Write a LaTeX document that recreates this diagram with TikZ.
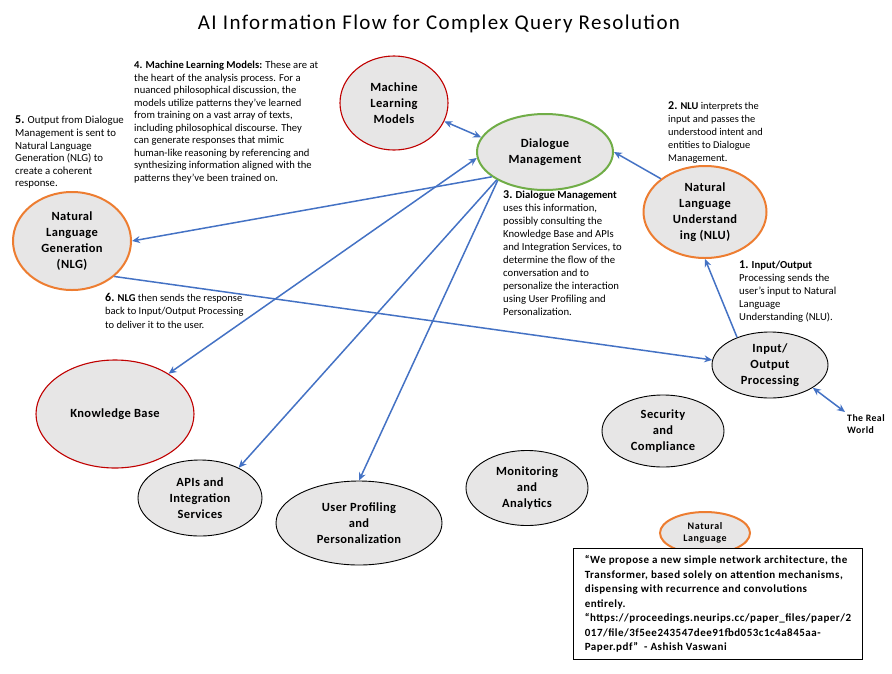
\documentclass[tikz,border=0pt]{standalone}
\usepackage{fontspec}
\setmainfont{Carlito}
\newfontfamily\titlefont{Carlito}[LetterSpace=6.5]
\newfontfamily\bubblefont{Carlito}[LetterSpace=3]
\newfontfamily\quotefont{Carlito}[LetterSpace=4.5]
\newfontfamily\smallfont{Carlito}[LetterSpace=6]
\usetikzlibrary{shapes.geometric,arrows.meta}

\definecolor{flowblue}{HTML}{4472C4}
\definecolor{mlred}{HTML}{C00000}
\definecolor{dmgreen}{HTML}{70AD47}
\definecolor{nlorange}{HTML}{ED7D31}
\definecolor{bubblegray}{HTML}{E7E6E6}

\tikzset{
    bubble/.style={ellipse, fill=bubblegray, draw=black, line width=0.9pt, align=center, inner sep=0pt, font=\bubblefont\fontsize{12.5}{15.8}\selectfont\bfseries},
    redbubble/.style={bubble, draw=mlred, line width=1.1pt},
    greenbubble/.style={bubble, draw=dmgreen, line width=2pt},
    orangebubble/.style={bubble, draw=nlorange, line width=2pt},
    note/.style={anchor=north west, align=left, inner sep=0pt},
    flow/.style={draw=flowblue, line width=1.5pt, -{Stealth[length=8pt,width=7pt]}},
    twoway/.style={flow, {Stealth[length=8pt,width=7pt]}-{Stealth[length=8pt,width=7pt]}}
}
\newcommand{\numtag}[1]{{\fontsize{12}{12}\selectfont\bfseries #1}}
\newcommand{\notesize}[2]{\fontsize{#1}{#2}\selectfont}

\begin{document}
\begin{tikzpicture}[x=1pt, y=-1pt]
    \useasboundingbox (0,0) rectangle (892,673);
    %   Title
    \node (title) at (439,24) {\titlefont\fontsize{21}{24}\selectfont AI Information Flow for Complex Query Resolution};

    %   Define the components as ellipses
    \node[redbubble, minimum width=108pt, minimum height=94pt] (ml) at (394,103) {Machine\\Learning\\Models};
    \node[greenbubble, minimum width=136pt, minimum height=76pt] (dm) at (545,152) {Dialogue\\Management};
    \node[orangebubble, minimum width=123pt, minimum height=92pt] (nlu) at (705,212) {Natural\\Language\\Understand\\ing (NLU)};
    \node[orangebubble, minimum width=118pt, minimum height=98pt] (nlg) at (72,241) {Natural\\Language\\Generation\\(NLG)};
    \node[bubble, minimum width=116pt, minimum height=66pt] (io) at (770,365) {Input/\\Output\\Processing};
    \node[redbubble, minimum width=158pt, minimum height=108pt] (kb) at (115,414) {Knowledge Base};
    \node[bubble, minimum width=124pt, minimum height=76pt] (api) at (200,498) {APIs and\\Integration\\Services};
    \node[bubble, minimum width=166pt, minimum height=84pt] (upp) at (359,523) {User Profiling\\and\\Personalization};
    \node[bubble, minimum width=122pt, minimum height=75pt] (mon) at (527,488) {Monitoring\\and\\Analytics};
    \node[bubble, minimum width=122pt, minimum height=72pt] (sec) at (663,431) {Security\\and\\Compliance};
    \node[orangebubble, minimum width=90pt, minimum height=42pt, font=\smallfont\fontsize{10}{12.5}\selectfont\bfseries] (nlsmall) at (705,533) {Natural\\Language};
    \node[anchor=north west, align=left, inner sep=2pt, font=\quotefont\fontsize{9.8}{12}\selectfont\bfseries] (world) at (845,412) {The Real\\World};

    %   Step notes
    \node[note, font=\notesize{10.7}{13}] (step1) at (739,260) {\numtag{1.} \textbf{Input/Output}\\Processing sends the\\user's input to Natural\\Language\\Understanding (NLU).};
    \node[note, font=\notesize{10.4}{13.2}] (step2) at (668,101) {\numtag{2.} \textbf{NLU} interprets the\\input and passes the\\understood intent and\\entities to Dialogue\\Management.};
    \node[note, font=\notesize{10.7}{13}] (step3) at (503,190) {\numtag{3.} \textbf{Dialogue Management}\\uses this information,\\possibly consulting the\\Knowledge Base and APIs\\and Integration Services, to\\determine the flow of the\\conversation and to\\personalize the interaction\\using User Profiling and\\Personalization.};
    \node[note, font=\notesize{10.6}{12.5}] (step4) at (134,61) {\textbf{4. Machine Learning Models:} These are at\\the heart of the analysis process. For a\\nuanced philosophical discussion, the\\models utilize patterns they've learned\\from training on a vast array of texts,\\including philosophical discourse. They\\can generate responses that mimic\\human-like reasoning by referencing and\\synthesizing information aligned with the\\patterns they've been trained on.};
    \node[note, font=\notesize{10.8}{12.6}] (step5) at (15,116) {\numtag{5.} Output from Dialogue\\Management is sent to\\Natural Language\\Generation (NLG) to\\create a coherent\\response.};
    \node[note, font=\notesize{10.5}{13.4}] (step6) at (105,293) {\numtag{6.} \textbf{NLG} then sends the response\\back to Input/Output Processing\\to deliver it to the user.};

    %   Connectors
    \draw[twoway] (ml.340) -- (dm.167);
    \draw[flow] (nlu.143) -- (dm.east);
    \draw[twoway] (kb.37) -- (dm.185);
    \draw[flow] (dm.205) -- (nlg.east);
    \draw[flow] (dm.210) -- (api.38);
    \draw[flow] (dm.211) -- (upp.north);
    \draw[flow] (nlg.320) -- (io.175);
    \draw[flow] (io.140) -- (nlu.south);
    \draw[twoway] (io.332) -- (world.north west);

    %   Quote box on top
    \node[draw=black, line width=1pt, fill=white, anchor=north west, align=left, minimum width=289pt, minimum height=111pt, font=\quotefont\fontsize{11}{14.5}\selectfont\bfseries] (quote) at (573,548) {“We propose a new simple network architecture, the\\Transformer, based solely on attention mechanisms,\\dispensing with recurrence and convolutions\\entirely.\\“https://proceedings.neurips.cc/paper\_files/paper/2\\017/file/3f5ee243547dee91fbd053c1c4a845aa-\\Paper.pdf”\ \ - Ashish Vaswani};
\end{tikzpicture}
\end{document}
